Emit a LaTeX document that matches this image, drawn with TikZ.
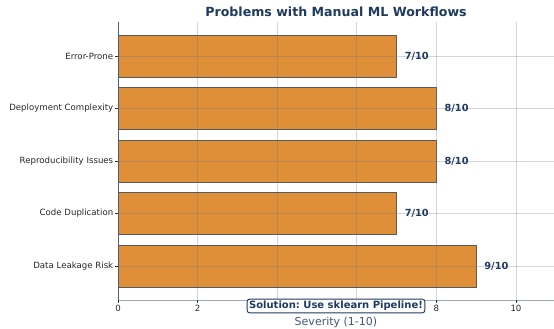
\documentclass[tikz,border=0pt]{standalone}
\usepackage{fontspec}
\setmainfont{DejaVu Sans}
\usepackage{xcolor}
\usetikzlibrary{calc}
\frenchspacing
\definecolor{barorange}{RGB}{222,143,56}
\definecolor{navy}{RGB}{31,58,95}
\definecolor{gridblue}{RGB}{100,115,150}
\definecolor{spinegrey}{RGB}{74,94,125}
\tikzset{
  ticklabel/.style={font=\fontsize{8.6}{10}\selectfont, text=black!85, inner sep=1.5},
  valuelabel/.style={font=\bfseries\fontsize{9.8}{11}\selectfont, text=navy, anchor=west, inner sep=0},
  bar/.style={fill=barorange, draw=black!65, line width=.8pt},
  gridline/.style={gridblue, opacity=.3, line width=.8pt},
}

\begin{document}
\begin{tikzpicture}[x=39.8pt,y=52.5pt]
\useasboundingbox (-2.965,-1.181) rectangle (10.955,5.067);

% bars
\foreach \v [count=\i from 0] in {9,7,8,8,7} {
  \draw[bar] (0,\i-.4) rectangle (\v,\i+.4);
}

% grid
\foreach \x in {2,4,6,8,10} {
  \draw[gridline] (\x,-.648)--(\x,4.648);
}
\foreach \y in {0,...,4} {
  \draw[gridline] (0,\y)--(10.955,\y);
}

% values
\foreach \v [count=\i from 0] in {9,7,8,8,7} {
  \node[valuelabel] (val\i) at (\v+.2,\i) {\v/10};
}

% axes
\draw[spinegrey!55,line width=1pt] (0,-.648)--(10.955,-.648);
\draw[spinegrey,line width=1pt] (0,-.648)--(0,4.648);

\foreach \x in {0,2,...,10} {
  \draw[black!80,line width=.6pt] (\x,-.648)--++(0,-.057) coordinate (xt\x);
}
\foreach \x in {0,2,8,10} {
  \node[ticklabel, below] (xl\x) at (xt\x) {\x};
}
\foreach \name [count=\i from 0] in {Data Leakage Risk,Code Duplication,Reproducibility Issues,Deployment Complexity,Error-Prone} {
  \draw[black!80,line width=.6pt] (0,\i)--++(-.075,0) node[ticklabel, left] (yt\i) {\name};
}

\node[font=\bfseries\fontsize{12.6}{15}\selectfont, text=navy] (title) at (5.477,4.838) {Problems with Manual ML Workflows};
\node[font=\fontsize{11}{13}\selectfont, text=navy!85] (xlab) at (5.477,-1.067) {Severity (1-10)};
\node[font=\bfseries\fontsize{10}{12}\selectfont, text=navy, fill=white, draw=navy, line width=.9pt, rounded corners=2.5pt, inner sep=2pt] (solution) at (5.477,-.762) {Solution: Use sklearn Pipeline!};
\end{tikzpicture}
\end{document}
